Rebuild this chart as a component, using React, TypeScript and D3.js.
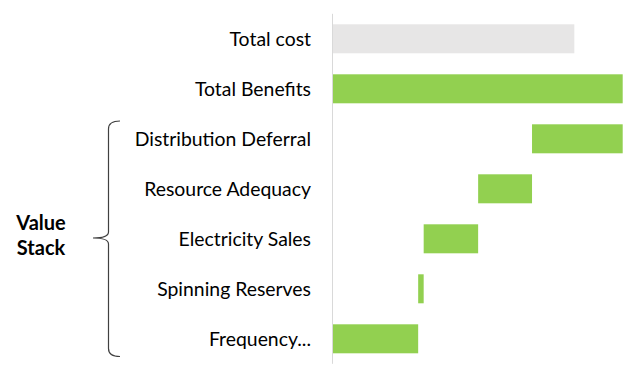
import React from "react";
import * as d3 from "d3";

const categories = [
  "Total cost",
  "Total Benefits",
  "Distribution Deferral",
  "Resource Adequacy",
  "Electricity Sales",
  "Spinning Reserves",
  "Frequency...",
];
// [start, end] of each floating bar
const starts = [0, 0, 68.7, 50.1, 31.3, 29.4, 0];
const ends = [83.3, 100, 100, 68.7, 50.1, 31.3, 29.4];
const kinds = ["cost", "benefit", "stack", "stack", "stack", "stack", "stack"];

const W = 640;
const H = 379;

export default function App() {
  const x = d3.scaleLinear().domain([0, 100]).range([333, 622.7]);
  const y = d3
    .scaleBand<string>()
    .domain(categories)
    .range([13.8, 363.8])
    .paddingInner(0.42)
    .paddingOuter(0.21);

  const font = "Lato, 'Open Sans', sans-serif";

  // brace path
  const bx = 108.5;
  const top = 121;
  const bot = 356.5;
  const mid = 238;
  const brace = `M120,${top} Q${bx},${top} ${bx},${top + 8} L${bx},${mid - 6} Q${bx},${mid} ${93},${mid} Q${bx},${mid} ${bx},${mid + 6} L${bx},${bot - 8} Q${bx},${bot} 120,${bot}`;

  return (
    <svg
      width={W}
      height={H}
      style={{ position: "absolute", left: 0, top: 0, background: "#fff" }}
    >
      {categories.map((c, i) => (
        <rect
          key={c}
          x={x(starts[i])}
          y={y(c)}
          width={x(ends[i]) - x(starts[i])}
          height={y.bandwidth()}
          fill={kinds[i] === "cost" ? "#e7e6e6" : "#92d050"}
        />
      ))}
      <line x1={332.5} x2={332.5} y1={13.8} y2={363.8} stroke="#d9d9d9" strokeWidth={1} />
      {categories.map((c) => (
        <text
          key={c}
          x={311}
          y={(y(c) as number) + y.bandwidth() / 2}
          dy="0.35em"
          textAnchor="end"
          fontFamily={font}
          fontSize={19.4}
          fill="#000"
        >
          {c}
        </text>
      ))}
      <path d={brace} fill="none" stroke="#404040" strokeWidth={1.2} />
      <text
        x={41}
        y={230}
        textAnchor="middle"
        fontFamily={font}
        fontWeight="bold"
        fontSize={20}
        fill="#000"
      >
        Value
      </text>
      <text
        x={41}
        y={255}
        textAnchor="middle"
        fontFamily={font}
        fontWeight="bold"
        fontSize={20}
        fill="#000"
      >
        Stack
      </text>
    </svg>
  );
}
